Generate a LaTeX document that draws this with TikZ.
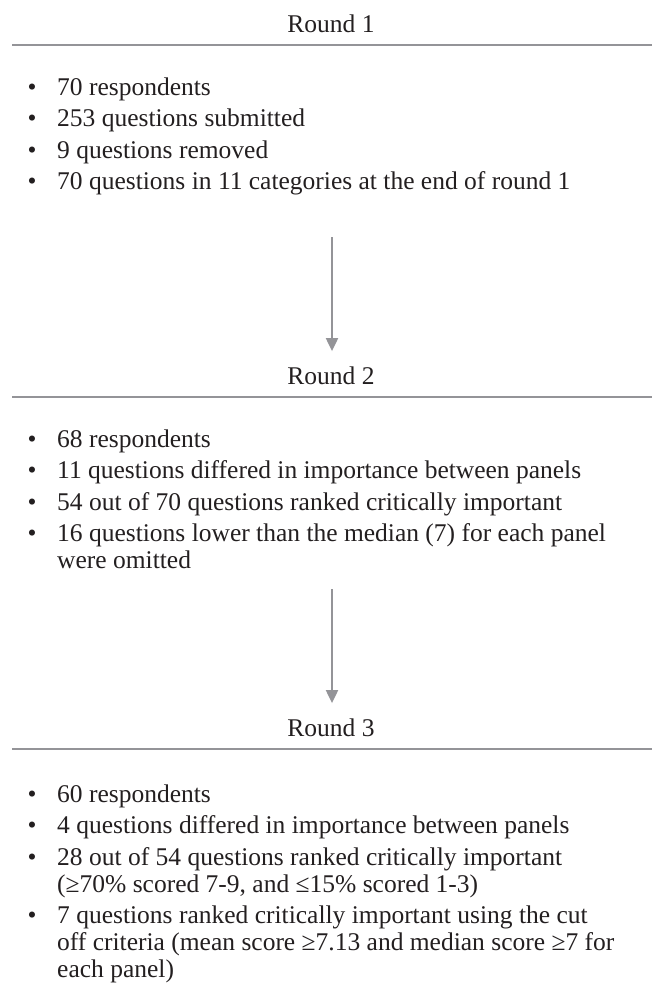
\documentclass[tikz,border=0pt]{standalone}
\usepackage{fontspec}
\setmainfont{Liberation Serif}
\usetikzlibrary{arrows.meta}

\definecolor{gris}{RGB}{148, 148, 152}
\definecolor{encre}{RGB}{35, 31, 32}

\tikzset{
  sepline/.style={draw=gris, line width=1.7pt},
  arr/.style={draw=gris, line width=2pt, -{Triangle[width=12pt, length=13pt]}, shorten >=15pt},
  roundtitle/.style={anchor=base, inner sep=0pt, text=encre, font=\fontsize{25.5}{27}\selectfont},
  bul/.style={anchor=base, inner sep=0pt, text=encre, font=\fontsize{25.5}{27}\selectfont},
  itemtxt/.style={anchor=base west, inner sep=0pt, align=left, text=encre, font=\fontsize{25.5}{27}\selectfont},
}

\begin{document}
\begin{tikzpicture}[x=1pt, y=-1pt]
  \useasboundingbox (0, 0) rectangle (652, 996);
  % titles and rules
  \foreach \k in {1, ..., 3} {
    \node[roundtitle] (r\k) at (331, {32+352*(\k-1)}) {Round \k};
    \draw[sepline] (12, {45+352*(\k-1)}) -- ++(640, 0);
  }
  % round 1 (first baseline / extra lines / text)
  \foreach \y/\n/\lbl [count=\i] in {95/0/{70 respondents}, 126.5/0/{253 questions submitted},
      158/0/{9 questions removed}, 189.5/0/{70 questions in 11 categories at the end of round 1}} {
    \node[bul] (ba\i) at (32, \y) {•};
    \node[itemtxt] (ia\i) at (57, {\y+27*\n}) {\lbl};
  }
  % round 2
  \foreach \y/\n/\lbl [count=\i] in {447/0/{68 respondents},
      478.5/0/{11 questions differed in importance between panels},
      510/0/{54 out of 70 questions ranked critically important},
      541.5/1/{16 questions lower than the median (7) for each panel\\were omitted}} {
    \node[bul] (bb\i) at (32, \y) {•};
    \node[itemtxt] (ib\i) at (57, {\y+27*\n}) {\lbl};
  }
  % round 3
  \foreach \y/\n/\lbl [count=\i] in {802/0/{60 respondents},
      833.5/0/{4 questions differed in importance between panels},
      865/1/{28 out of 54 questions ranked critically important\\(≥70\% scored 7-9, and ≤15\% scored 1-3)},
      923.5/2/{7 questions ranked critically important using the cut\\off criteria (mean score ≥7.13 and median score ≥7 for\\each panel)}} {
    \node[bul] (bc\i) at (32, \y) {•};
    \node[itemtxt] (ic\i) at (57, {\y+27*\n}) {\lbl};
  }
  % arrows
  \coordinate (a1) at (332, 237);
  \coordinate (a2) at (332, 589);
  \draw[arr] (a1) -- (a1 |- r2.north);
  \draw[arr] (a2) -- (a2 |- r3.north);
\end{tikzpicture}
\end{document}
